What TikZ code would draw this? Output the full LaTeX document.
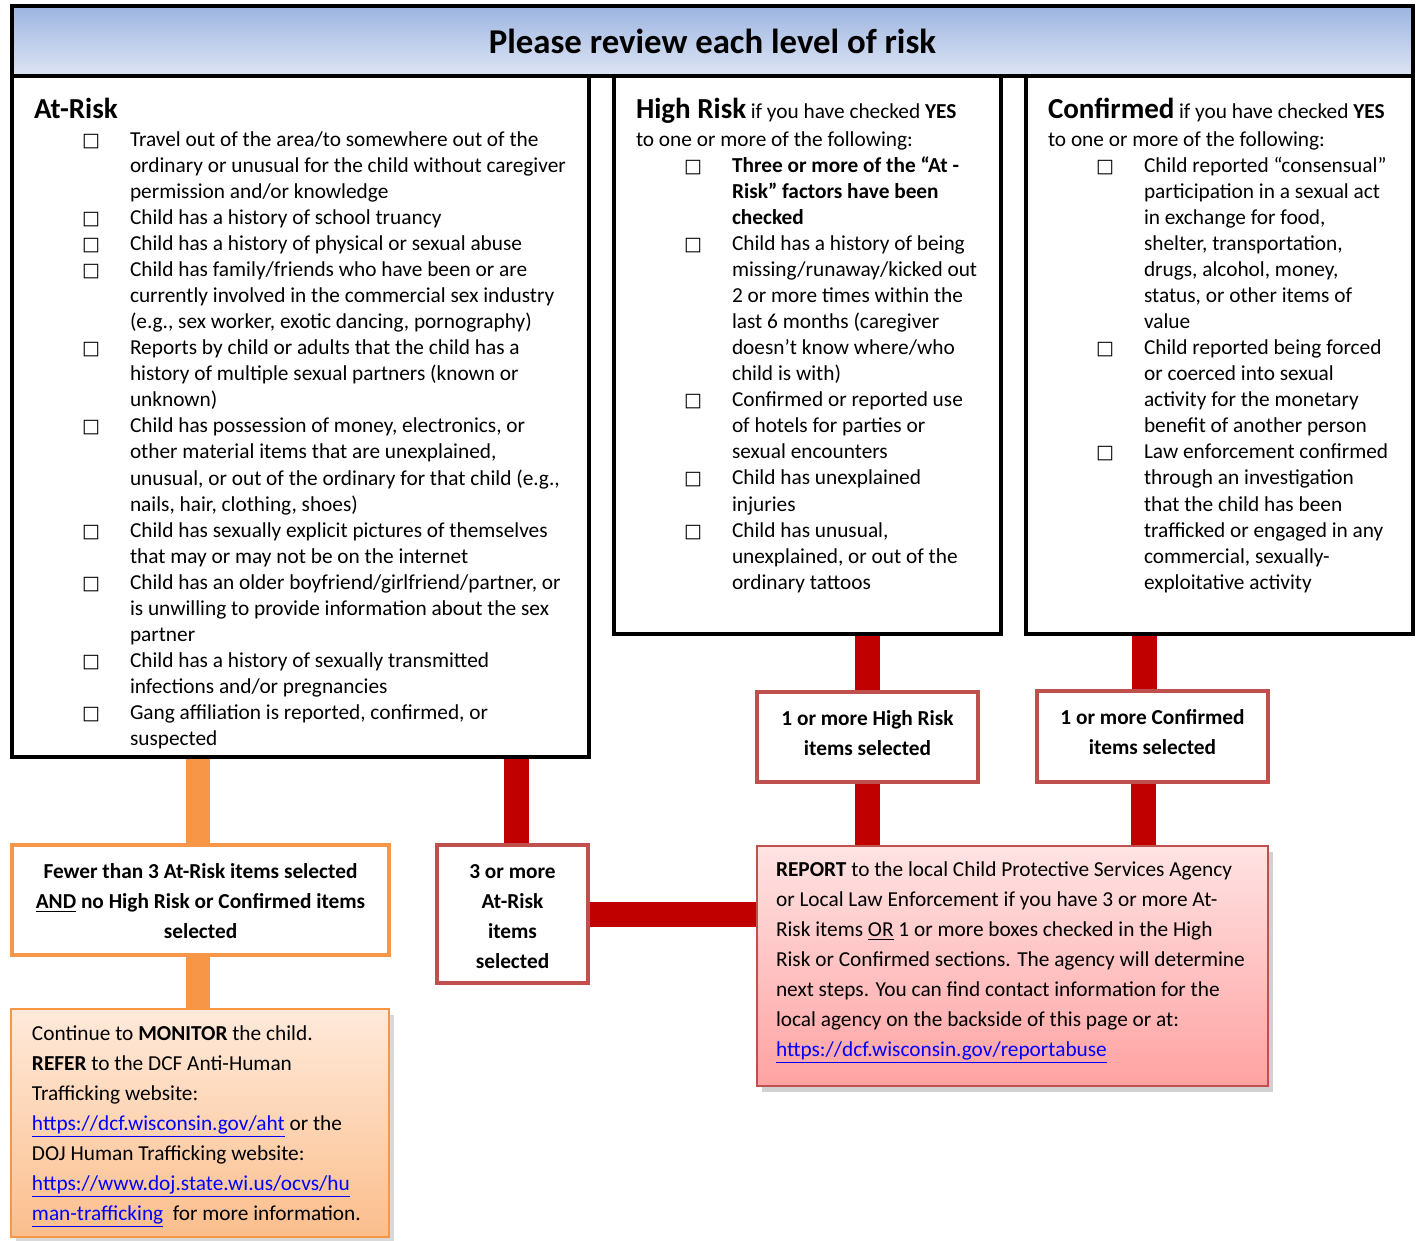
\documentclass[tikz,border=0pt]{standalone}
\usepackage{fontspec}
\setmainfont{Carlito}
\newfontfamily\symf{DejaVu Sans}
\usetikzlibrary{backgrounds}
\definecolor{orng}{HTML}{F79646}
\definecolor{dred}{HTML}{C00000}
\definecolor{bred}{HTML}{C0504D}
\definecolor{tbtop}{HTML}{9DB5E1}
\definecolor{tbbot}{HTML}{DDE5F3}
\definecolor{rtop}{HTML}{FFE3E3}
\definecolor{rbot}{HTML}{FFA2A2}
\definecolor{mtop}{HTML}{FFEADB}
\definecolor{mbot}{HTML}{FBBE8C}
\definecolor{lnk}{HTML}{0000FF}
\newcommand\bodyf{\fontsize{10.66}{13.02}\selectfont}
\newcommand\bodyg{\fontsize{10.66}{15}\selectfont}
\newcommand\headf{\fontsize{14.5}{16}\selectfont\bfseries}
\newcommand\cbx{\leavevmode\llap{\makebox[24pt][l]{\symf\fontsize{9.5}{9.5}\selectfont □}}}
\newcommand\lk[1]{\textcolor{lnk}{\underline{#1}}}
\tikzset{
  blackbox/.style={draw=black, line width=2.25pt, fill=white, inner sep=0pt},
  orbox/.style={draw=orng, line width=2pt, fill=white, inner sep=0pt},
  rdbox/.style={draw=bred, line width=2pt, fill=white, inner sep=0pt},
  lbl/.style={align=center, font=\bodyg\bfseries, inner sep=0pt},
  oconn/.style={orng, line width=12pt},
  rconn/.style={dred, line width=12.5pt},
  txt/.style={anchor=base west, inner sep=0pt, outer sep=0pt},
}
\begin{document}
\begin{tikzpicture}[x=0.5pt, y=-0.5pt]
\useasboundingbox (0,0) rectangle (1416,1240);
% frames
\node[blackbox, minimum width=288.5pt, minimum height=340.5pt] (atrisk) at (300.5,416.5) {};
\node[blackbox, minimum width=193.5pt, minimum height=279pt] (highrisk) at (807.5,355) {};
\node[blackbox, minimum width=193.5pt, minimum height=279pt] (confirmed) at (1219.5,355) {};
\node[draw=black, line width=2.25pt, top color=tbtop, bottom color=tbbot, minimum width=700.5pt, minimum height=35pt, inner sep=0pt, font=\fontsize{17.4}{20}\selectfont\bfseries] (title) at (712.5,41) {Please review each level of risk};

% decision boxes
\node[orbox, minimum width=188.5pt, minimum height=55pt] (fewer) at (200.5,900) {};
\node[lbl] (fewerlbl) at ([yshift=-0.75pt]fewer.center)
  {Fewer than 3 At-Risk items selected\\\underline{AND} no High Risk or Confirmed items\\selected};
\node[rdbox, minimum width=75.5pt, minimum height=69pt] (three) at (512.5,914) {};
\node[lbl] (threelbl) at ([yshift=-1.25pt]three.center)
  {3 or more\\At-Risk\\items\\selected};
\node[rdbox, minimum width=110.5pt, minimum height=45pt] (hrone) at (867.5,737) {};
\node[lbl] (hronelbl) at ([yshift=1.75pt]hrone.center)
  {1 or more High Risk\\items selected};
\node[rdbox, minimum width=115.5pt, minimum height=45.5pt] (cfone) at (1152.5,736.5) {};
\node[lbl] (cfonelbl) at ([yshift=2.25pt]cfone.center)
  {1 or more Confirmed\\items selected};

% outcome boxes with shadows
\fill[black, opacity=0.18] (762,852) rectangle (1273,1092);
\node[draw=bred, line width=1pt, top color=rtop, bottom color=rbot, minimum width=255.5pt, minimum height=120pt, inner sep=0pt] (report) at (1012.5,966) {};
\fill[black, opacity=0.15] (16,1015) rectangle (394,1243);
\node[draw=orng, line width=1pt, top color=mtop, bottom color=mbot, minimum width=189pt, minimum height=114pt, inner sep=0pt] (monitor) at (200,1123) {};

% connectors
\begin{scope}[on background layer]
\draw[oconn] ([xshift=-1.25pt]fewer.north) -- ([xshift=-1.25pt]fewer.north |- atrisk.south);
\draw[oconn] ([xshift=-1.25pt]fewer.south) -- ([xshift=-1.25pt]fewer.south |- monitor.north);
\draw[rconn] ([xshift=1.75pt]three.north) -- ([xshift=1.75pt]three.north |- atrisk.south);
\draw[rconn] (three.east) -- (three.east -| report.west);
\draw[rconn] (hrone.north) -- (hrone.north |- highrisk.south);
\draw[rconn] (hrone.south) -- (hrone.south |- report.north);
\draw[rconn] ([xshift=-4pt]cfone.north) -- ([xshift=-4pt]cfone.north |- confirmed.south);
\draw[rconn] ([xshift=-4.5pt]cfone.south) -- ([xshift=-4.5pt]cfone.south |- report.north);
\end{scope}

% At-Risk column
\node[txt] (arhead) at (34,119) {\headf At-Risk};
\node[txt] (arlist) at (130,146.5) {\parbox[t]{260pt}{\bodyf\raggedright
\cbx Travel out of the area/to somewhere out of the\\
ordinary or unusual for the child without caregiver\\
permission and/or knowledge\\
\cbx Child has a history of school truancy\\
\cbx Child has a history of physical or sexual abuse\\
\cbx Child has family/friends who have been or are\\
currently involved in the commercial sex industry\\
(e.g., sex worker, exotic dancing, pornography)\\
\cbx Reports by child or adults that the child has a\\
history of multiple sexual partners (known or\\
unknown)\\
\cbx Child has possession of money, electronics, or\\
other material items that are unexplained,\\
unusual, or out of the ordinary for that child (e.g.,\\
nails, hair, clothing, shoes)\\
\cbx Child has sexually explicit pictures of themselves\\
that may or may not be on the internet\\
\cbx Child has an older boyfriend/girlfriend/partner, or\\
is unwilling to provide information about the sex\\
partner\\
\cbx Child has a history of sexually transmitted\\
infections and/or pregnancies\\
\cbx Gang affiliation is reported, confirmed, or\\
suspected}};

% High Risk column
\node[txt] (hrhead) at (636,119) {{\headf High Risk} {\bodyf if you have checked \textbf{YES}}};
\node[txt] (hrsub) at (636,146.5) {\bodyf to one or more of the following:};
\node[txt] (hrlist) at (732,172.5) {\parbox[t]{200pt}{\bodyf\raggedright
\cbx\textbf{Three or more of the “At -}\\
\textbf{Risk” factors have been}\\
\textbf{checked}\\
\cbx Child has a history of being\\
missing/runaway/kicked out\\
2 or more times within the\\
last 6 months (caregiver\\
doesn’t know where/who\\
child is with)\\
\cbx Confirmed or reported use\\
of hotels for parties or\\
sexual encounters\\
\cbx Child has unexplained\\
injuries\\
\cbx Child has unusual,\\
unexplained, or out of the\\
ordinary tattoos}};

% Confirmed column
\node[txt] (cfhead) at (1048,119) {{\headf Confirmed} {\bodyf if you have checked \textbf{YES}}};
\node[txt] (cfsub) at (1048,146.5) {\bodyf to one or more of the following:};
\node[txt] (cflist) at (1144,172.5) {\parbox[t]{200pt}{\bodyf\raggedright
\cbx Child reported “consensual”\\
participation in a sexual act\\
in exchange for food,\\
shelter, transportation,\\
drugs, alcohol, money,\\
status, or other items of\\
value\\
\cbx Child reported being forced\\
or coerced into sexual\\
activity for the monetary\\
benefit of another person\\
\cbx Law enforcement confirmed\\
through an investigation\\
that the child has been\\
trafficked or engaged in any\\
commercial, sexually-\\
exploitative activity}};

% Report text
\node[txt] (reporttext) at (776,876) {\parbox[t]{260pt}{\bodyg\raggedright
\textbf{REPORT} to the local Child Protective Services Agency\\
or Local Law Enforcement if you have 3 or more At-\\
Risk items \underline{OR} 1 or more boxes checked in the High\\
Risk or Confirmed sections. The agency will determine\\
next steps. You can find contact information for the\\
local agency on the backside of this page or at:\\
\lk{https://dcf.wisconsin.gov/reportabuse}}};

% Monitor text
\node[txt] (monitortext) at (32,1040) {\parbox[t]{200pt}{\bodyg\raggedright
Continue to \textbf{MONITOR} the child.\\
\textbf{REFER} to the DCF Anti-Human\\
Trafficking website:\\
\lk{https://dcf.wisconsin.gov/aht} or the\\
DOJ Human Trafficking website:\\
\lk{https://www.doj.state.wi.us/ocvs/hu}\\
\lk{man-trafficking}\ \ for more information.}};
\end{tikzpicture}
\end{document}
